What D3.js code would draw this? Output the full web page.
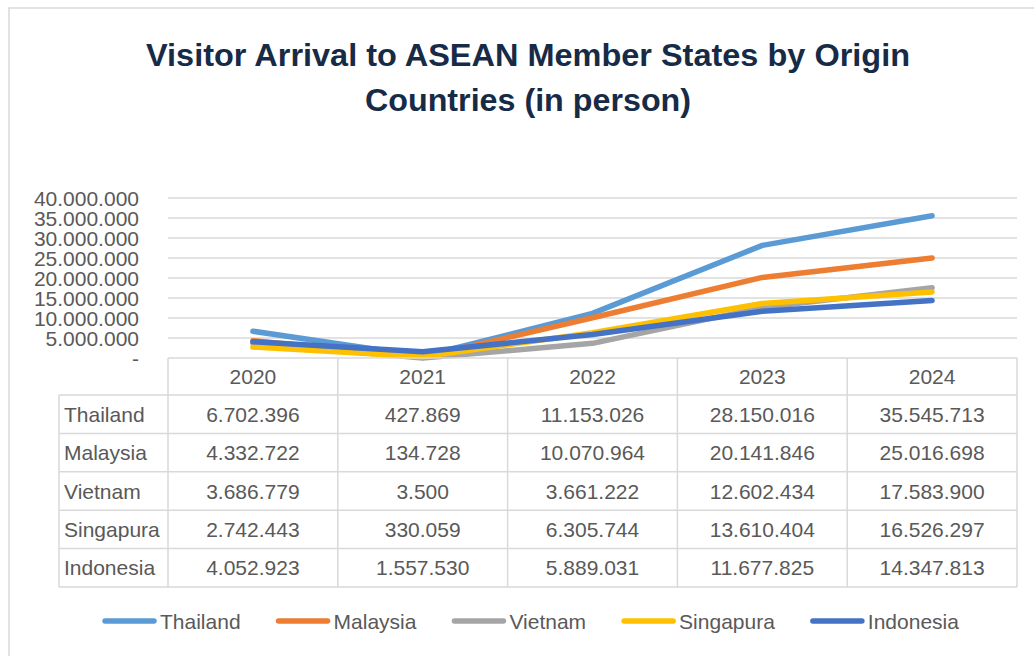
<!DOCTYPE html>
<html><head><meta charset="utf-8">
<script src="https://cdn.jsdelivr.net/npm/d3@7"></script>
<style>
html,body{margin:0;padding:0;background:#fff;}
svg{display:block;}
text{font-family:"Liberation Sans",Arial,sans-serif;}
</style></head>
<body>
<svg id="chart" width="1034" height="656"></svg>
<script>
const years = ["2020","2021","2022","2023","2024"];
const seriesNames = ["Thailand","Malaysia","Vietnam","Singapura","Indonesia"];
const thailand  = [6702396, 427869, 11153026, 28150016, 35545713];
const malaysia  = [4332722, 134728, 10070964, 20141846, 25016698];
const vietnam   = [3686779, 3500, 3661222, 12602434, 17583900];
const singapura = [2742443, 330059, 6305744, 13610404, 16526297];
const indonesia = [4052923, 1557530, 5889031, 11677825, 14347813];
const colors = ["#5B9BD5","#ED7D31","#A5A5A5","#FFC000","#4472C4"];
const yTicks = [0,5000000,10000000,15000000,20000000,25000000,30000000,35000000,40000000];
const titleLines = ["Visitor Arrival to ASEAN Member States by Origin","Countries (in person)"];

const seriesValues = [thailand, malaysia, vietnam, singapura, indonesia];
const series = seriesNames.map((n,i)=>({name:n, values:seriesValues[i], color:colors[i]}));

const loc = d3.formatLocale({decimal:",", thousands:".", grouping:[3], currency:["",""]});
const fmt = loc.format(",d");
const tickFmt = v => v === 0 ? "-" : fmt(v);

const svg = d3.select("#chart");
const gridColor = "#D9D9D9";
const textColor = "#595959";

// chart frame
svg.append("rect").attr("x",9).attr("y",8).attr("width",1040).attr("height",660)
  .attr("fill","none").attr("stroke",gridColor).attr("stroke-width",1.5);

// title
svg.append("g").selectAll("text").data(titleLines).join("text")
  .attr("x",528).attr("y",(d,i)=>66+i*45)
  .attr("text-anchor","middle")
  .attr("font-weight","bold").attr("font-size",32)
  .attr("fill","#172B47")
  .attr("textLength",(d,i)=> i===0 ? 764 : 326)
  .attr("lengthAdjust","spacingAndGlyphs")
  .text(d=>d);

const x = d3.scaleBand().domain(years).range([168,1017]).padding(0);
const y = d3.scaleLinear().domain([0,40000000]).range([358,198]);

// gridlines
svg.append("g").selectAll("line").data(yTicks.filter(t=>t>0)).join("line")
  .attr("x1",168).attr("x2",1017)
  .attr("y1",d=>y(d)).attr("y2",d=>y(d))
  .attr("stroke",gridColor).attr("stroke-width",1.5);

// y axis
const yAxis = d3.axisLeft(y).tickValues(yTicks).tickFormat(tickFmt).tickSize(0).tickPadding(0);
const ya = svg.append("g").attr("transform","translate(139,0)").call(yAxis);
ya.select(".domain").remove();
ya.selectAll("text").attr("font-size",21).attr("fill",textColor)
  .attr("font-family","Liberation Sans, Arial, sans-serif")
  .attr("dy","0.36em");

// lines
const line = d3.line().x((d,i)=>x(years[i])+x.bandwidth()/2).y(d=>y(d));
svg.append("g").selectAll("path").data(series).join("path")
  .attr("d",d=>line(d.values))
  .attr("fill","none").attr("stroke",d=>d.color)
  .attr("stroke-width",5.5).attr("stroke-linecap","round").attr("stroke-linejoin","round");

// data table
const tbl = svg.append("g");
const headerTop = 358, headerH = 37, rowH = 38.4, labelLeft = 59;
const rowsTop = headerTop + headerH;
const tableBottom = rowsTop + rowH*series.length;
tbl.append("line").attr("x1",168).attr("x2",1017).attr("y1",headerTop).attr("y2",headerTop)
  .attr("stroke",gridColor).attr("stroke-width",1.5);
tbl.selectAll("line.h").data(d3.range(series.length+1)).join("line").attr("class","h")
  .attr("x1",labelLeft).attr("x2",1017)
  .attr("y1",i=>rowsTop+i*rowH).attr("y2",i=>rowsTop+i*rowH)
  .attr("stroke",gridColor).attr("stroke-width",1.5);
const colEdges = years.map(yr=>x(yr)).concat([x.range()[1]]);
tbl.selectAll("line.v").data(colEdges).join("line").attr("class","v")
  .attr("x1",d=>d).attr("x2",d=>d).attr("y1",headerTop).attr("y2",tableBottom)
  .attr("stroke",gridColor).attr("stroke-width",1.5);
tbl.append("line").attr("x1",labelLeft).attr("x2",labelLeft).attr("y1",rowsTop).attr("y2",tableBottom)
  .attr("stroke",gridColor).attr("stroke-width",1.5);
tbl.selectAll("text.hd").data(years).join("text").attr("class","hd")
  .attr("x",d=>x(d)+x.bandwidth()/2).attr("y",headerTop+headerH/2)
  .attr("dy","0.36em").attr("text-anchor","middle")
  .attr("font-size",21).attr("fill",textColor).text(d=>d);
series.forEach((s,r)=>{
  const cy = rowsTop + r*rowH + rowH/2;
  tbl.append("text").attr("x",64).attr("y",cy).attr("dy","0.36em")
    .attr("font-size",21).attr("fill",textColor).text(s.name);
  tbl.append("g").selectAll("text").data(s.values).join("text")
    .attr("x",(d,i)=>x(years[i])+x.bandwidth()/2).attr("y",cy).attr("dy","0.36em")
    .attr("text-anchor","middle").attr("font-size",21).attr("fill",textColor)
    .text(d=>fmt(d));
});

// legend
const lg = svg.append("g");
let lx = 102;
const ly = 621;
series.forEach(s=>{
  lg.append("line").attr("x1",lx+3).attr("x2",lx+52).attr("y1",ly).attr("y2",ly)
    .attr("stroke",s.color).attr("stroke-width",5.5).attr("stroke-linecap","round");
  const t = lg.append("text").attr("x",lx+58).attr("y",ly).attr("dy","0.36em")
    .attr("font-size",21).attr("fill",textColor).text(s.name);
  const w = t.node().getComputedTextLength();
  lx = lx + 58 + w + 35;
});
</script>
</body></html>
